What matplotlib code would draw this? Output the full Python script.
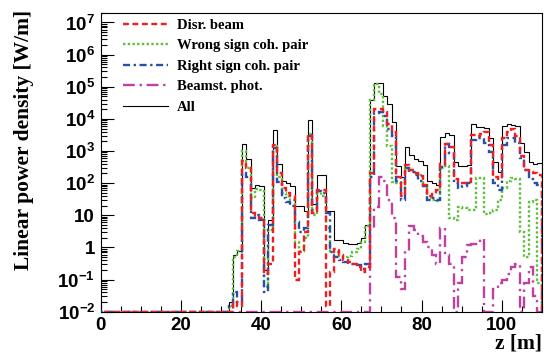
import matplotlib.pyplot as plt
import numpy as np
from matplotlib.ticker import MultipleLocator, LogLocator, FuncFormatter, NullFormatter

plt.rcParams['font.family'] = 'Liberation Sans'
plt.rcParams['font.weight'] = 'bold'
plt.rcParams['mathtext.fontset'] = 'custom'
plt.rcParams['mathtext.rm'] = 'Liberation Sans:bold'
plt.rcParams['mathtext.it'] = 'Liberation Sans:bold'
plt.rcParams['mathtext.bf'] = 'Liberation Sans:bold'
plt.rcParams['mathtext.default'] = 'rm'

# histogram binning: 100 bins over 0..110 m, everything below bin 29 is empty
Z_MIN, Z_MAX, N_BINS = 0.0, 110.0, 100
FIRST_BIN = 29

# linear power density [W/m], bins 29..99
all_pw = [0.02, 0.6, 0.8, 1700, 580, 70, 90, 80, 0.2, 7,
          4500, 400, 120, 100, 80, 20, 20, 14, 9000, 22,
          180, 180, 14, 14, 1.7, 1.7, 1.4, 1.3, 1.3, 1.4,
          2, 5, 4e4, 1.35e5, 1.35e5, 5e4, 3e4, 8000, 350, 150,
          1300, 760, 560, 480, 370, 115, 100, 85, 2800, 3600,
          3200, 450, 350, 330, 370, 6900, 5500, 5500, 5300, 2500,
          440, 230, 6000, 6900, 6500, 5800, 1800, 900, 470, 400,
          430]
disr_beam = [0, 0.02, 0.015, 500, 300, 12, 10, 8, 0.15, 0.3,
             1500, 200, 70, 50, 40, 0.1, 0.7, 3, 3200, 12,
             60, 60, 0.015, 0.17, 0.9, 0.6, 0.4, 0.35, 0.3, 0.25,
             0.17, 0.25, 200, 2e4, 2e4, 1.6e4, 7000, 4000, 150, 40,
             370, 250, 200, 170, 90, 40, 45, 60, 400, 1700,
             1300, 130, 100, 100, 110, 3200, 3000, 3500, 3800, 1500,
             150, 130, 2500, 4000, 5000, 3000, 700, 250, 220, 200,
             180]
wrong_sign = [0.015, 0.5, 0.75, 1000, 300, 35, 65, 60, 0.06, 3.5,
              1400, 150, 50, 40, 30, 1.5, 0.8, 2, 3500, 10,
              55, 40, 4, 0.8, 0.7, 0.55, 0.5, 0.55, 0.7, 0.9,
              1.5, 4.5, 4e4, 1.2e5, 6e4, 6000, 1400, 110, 100, 70,
              300, 250, 220, 180, 80, 35, 30, 28, 300, 350,
              8, 7, 18, 17, 15, 15, 140, 140, 11, 12,
              15, 30, 70, 120, 140, 130, 3, 0.5, 25, 30,
              0.08]
right_sign = [0.015, 0.04, 0.02, 200, 150, 8, 10, 7, 0.04, 5,
              1200, 110, 35, 25, 20, 6, 3, 4, 3000, 15,
              55, 50, 12, 0.7, 0.5, 0.4, 0.35, 0.3, 0.3, 0.28,
              0.22, 0.3, 150, 1.5e4, 1.6e4, 1.2e4, 5000, 3000, 120, 30,
              300, 220, 180, 120, 80, 30, 35, 30, 320, 1700,
              850, 100, 70, 80, 100, 2200, 2500, 2500, 1800, 900,
              100, 60, 1500, 2500, 2500, 1800, 600, 250, 130, 100,
              90]
beamst_phot = [0, 0, 0, 0, 0, 0, 0, 0, 0, 0,
               0, 0, 0, 0, 0, 0, 0, 0, 0, 0,
               0, 0, 0, 0, 0, 0, 0, 0, 0, 0,
               0, 0, 4, 18, 150, 120, 30, 8, 0.12, 0.05,
               0.8, 4.5, 3.5, 2.2, 1.5, 1, 0.6, 0.3, 4, 0.6,
               0.3, 0, 0.08, 0.5, 1.2, 1.3, 1.3, 1.8, 0, 0,
               0.05, 0.08, 0.1, 0.15, 0.25, 0.3, 0, 0.08, 0.25, 0.03,
               0]

Y_MIN, Y_MAX = 1e-2, 2e7
edges = np.linspace(Z_MIN, Z_MAX, N_BINS + 1)


def full_hist(vals):
    h = np.zeros(N_BINS)
    h[FIRST_BIN:FIRST_BIN + len(vals)] = vals
    # empty bins sit on the bottom of the frame, like ROOT does
    return np.clip(h, Y_MIN, None)


fig = plt.figure(figsize=(5.44, 3.55), dpi=100)
ax = fig.add_axes((0.185, 0.122, 0.811, 0.842))
ax.set_yscale('log')

h_all = ax.stairs(full_hist(all_pw), edges, color='black', lw=0.8, zorder=2)
h_mag = ax.stairs(full_hist(beamst_phot), edges, color='#c040a0', lw=1.7,
                  linestyle=(0, (5, 2, 1, 2)), zorder=3)
h_grn = ax.stairs(full_hist(wrong_sign), edges, color='#5cbf3a', lw=1.7,
                  linestyle=(0, (1, 1)), zorder=4)
h_blu = ax.stairs(full_hist(right_sign), edges, color='#2a4fa8', lw=1.7,
                  linestyle=(0, (3, 1.5, 1, 1.5)), zorder=5)
h_red = ax.stairs(full_hist(disr_beam), edges, color='#f01e1e', lw=1.7,
                  linestyle=(0, (2.5, 1.5)), zorder=6)

ax.set_xlim(Z_MIN, Z_MAX)
ax.set_ylim(Y_MIN, Y_MAX)


def log_label(v, pos):
    e = int(round(np.log10(v)))
    if e == 0:
        return '1'
    if e == 1:
        return '10'
    return r'$10^{%d}$' % e


ax.xaxis.set_major_locator(MultipleLocator(20))
ax.xaxis.set_minor_locator(MultipleLocator(5))
ax.yaxis.set_major_locator(LogLocator(base=10, numticks=20))
ax.yaxis.set_minor_locator(LogLocator(base=10, subs=np.arange(2, 10), numticks=20))
ax.yaxis.set_major_formatter(FuncFormatter(log_label))
ax.yaxis.set_minor_formatter(NullFormatter())
ax.tick_params(which='both', direction='in', top=False, right=False,
               labelsize=13.5, width=0.8)
ax.tick_params(which='major', length=9, pad=4)
ax.tick_params(which='minor', length=4.5)
for s in ax.spines.values():
    s.set_linewidth(0.8)

serif = dict(family='Liberation Serif', weight='bold')
fig.text(0.045, 0.972, 'Linear power density [W/m]', rotation=90,
         ha='center', va='top', fontsize=15.5, **serif)
fig.text(0.996, 0.005, 'z [m]', ha='right', va='bottom', fontsize=15.5, **serif)

ax.legend([h_red, h_grn, h_blu, h_mag, h_all],
          ['Disr. beam', 'Wrong sign coh. pair', 'Right sign coh. pair',
           'Beamst. phot.', 'All'],
          loc='upper left', bbox_to_anchor=(0.05, 0.98), frameon=False,
          prop=dict(size=10.5, **serif), handlelength=3.1,
          handletextpad=0.6, labelspacing=0.5, borderpad=0, borderaxespad=0)

fig.savefig('out.png', dpi=100)
plt.close(fig)
